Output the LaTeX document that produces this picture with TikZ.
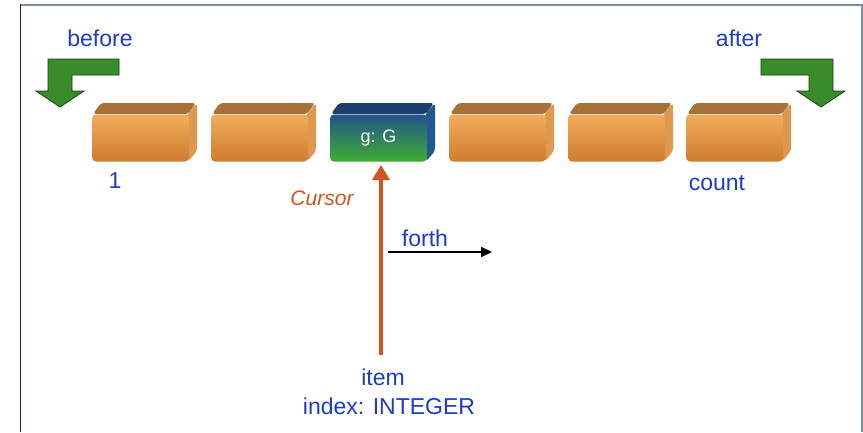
\documentclass[tikz,border=0pt]{standalone}
\usepackage{fontspec}
\setmainfont{Liberation Sans}
\usetikzlibrary{arrows.meta}
\definecolor{txtblue}{RGB}{30,60,200}
\definecolor{curs}{RGB}{208,84,34}
\definecolor{arrgreen}{RGB}{58,140,42}
\definecolor{arrline}{RGB}{30,60,20}
\definecolor{oTopF}{RGB}{166,114,56}
\definecolor{oSideF}{RGB}{222,152,80}
\definecolor{oFrontT}{RGB}{241,172,90}
\definecolor{oFrontB}{RGB}{206,126,46}
\definecolor{gTopF}{RGB}{28,64,108}
\definecolor{gSideF}{RGB}{36,86,140}
\definecolor{gFrontT}{RGB}{34,84,140}
\definecolor{gFrontB}{RGB}{62,172,50}
\definecolor{navy}{RGB}{12,40,82}
\definecolor{frameg}{RGB}{125,140,160}
\tikzset{
  lbl/.style={font=\fontsize{23}{27}\selectfont, text=txtblue, anchor=base, inner sep=0pt},
  otop/.style={fill=oTopF}, oside/.style={fill=oSideF},
  ofront/.style={top color=oFrontT, bottom color=oFrontB},
  gtop/.style={fill=gTopF}, gside/.style={fill=gSideF},
  gfront/.style={top color=gFrontT, bottom color=gFrontB},
  frontbox/.style={rectangle, rounded corners=4pt, minimum width=97pt, minimum height=47pt, inner sep=0pt},
  greenarrow/.style={fill=arrgreen, draw=arrline, line width=0.8pt},
}
\newcommand\blk[3]{%
  \fill[#3top, rounded corners=3pt] (#2+1,114) -- (#2+9,103) -- (#2+104,103) -- (#2+96,114) -- cycle;
  \fill[#3side, rounded corners=3pt] (#2+95,115) -- (#2+105,103) -- (#2+105,151) -- (#2+96,161.5) -- cycle;
  \node[frontbox, #3front] (#1) at (#2+48.5,138) {};
}
\begin{document}
\begin{tikzpicture}[x=1pt, y=-1pt]
\useasboundingbox (0,0) rectangle (863,432);
\fill[white] (0,0) rectangle (863,432);
% frame
\draw[frameg, line width=1.2pt] (20.5,5) -- (862,5) -- (862,432);
\draw[navy, line width=1.5pt] (20.5,432) -- (20.5,4.4);
% green arrows
\draw[greenarrow] (48,59) -- (119,59) -- (119,75) -- (72,75) -- (72,91) -- (84,91) -- (60,107) -- (36,91) -- (48,91) -- cycle;
\draw[greenarrow] (761,59) -- (833,59) -- (833,91) -- (845,91) -- (821,107) -- (797,91) -- (809,91) -- (809,75) -- (761,75) -- cycle;
% blocks
\blk{b1}{92}{o}
\blk{b2}{211}{o}
\blk{b3}{330}{g}
\blk{b4}{449}{o}
\blk{b5}{568}{o}
\blk{b6}{686}{o}
\node[font=\fontsize{18}{21}\selectfont, text=white] (g) at (b3) {g: G};
% labels
\node[lbl] (before) at (100,46) {before};
\node[lbl] (after) at (739,46) {after};
\node[lbl] (one) at (115,188) {1};
\node[lbl] (count) at (717,190) {count};
\node[lbl, text=curs, font=\fontsize{21}{25}\selectfont\itshape] (cursor) at (322,205) {Cursor};
\node[lbl] (forth) at (425,246) {forth};
\node[lbl] (item) at (383,385) {item};
\node[lbl] (index) at (389,414) {index: INTEGER};
% cursor arrow
\coordinate (cbase) at (381,355);
\coordinate (ctip) at (381,165);
\draw[curs, line width=3.5pt, -{Triangle[width=17pt,length=15pt]}] (cbase) -- (ctip);
% forth arrow
\coordinate (fs) at (388,252);
\coordinate (fe) at (492,252);
\draw[black, line width=2pt, -{Triangle[width=10pt,length=11pt]}] (fs) -- (fe);
\end{tikzpicture}
\end{document}
